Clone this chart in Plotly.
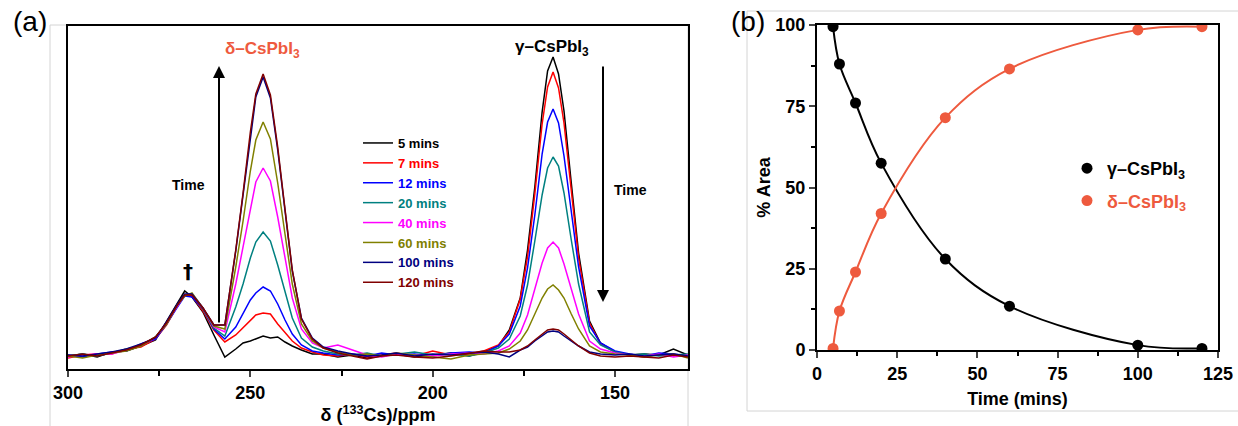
import plotly.graph_objects as go

# ---------------- Panel (a): 133Cs NMR spectra ----------------
ppm = [300, 296, 292, 288, 284, 280, 276, 273, 270, 268, 266, 263, 260, 257, 254, 252,
       250, 248.5, 246.5, 244.5, 242.5, 240.5, 238.5, 236, 233, 230, 226, 222, 218, 214,
       210, 205, 200, 195, 190, 186, 182, 179, 176, 174, 172, 170, 168.5, 167, 165.5, 164,
       162, 160, 157, 154, 150, 146, 142, 138, 134, 130]

int_5min = [-1, 1, -2, 3, 4, 9, 15, 33, 52, 64, 58,
            43, 20, -2, 6, 12, 14, 16, 19, 17, 18, 13, 9, 5, 1, 1, -2,
            0, -3, -1, 1, -2, 0, 2, -1,
            3, 9, 25, 57, 105, 168, 243, 284, 298, 281, 244, 172, 102, 34, 12, 3,
            0, 1, 0, 6, 0]
int_7min = [-3, 0, 1, 1, 6, 8, 16, 30, 49, 60, 59,
            44, 25, 13, 20, 27, 35, 40, 42, 41, 31, 22, 14, 7, 3, 0, -1,
            1, -2, 0, 2, -1, 4, 0, 1,
            4, 10, 23, 56, 98, 161, 231, 268, 283, 267, 232, 163, 97, 32, 11, 3,
            0, -2, 1, -1, 0]
int_12min = [0, -2, 1, 3, 4, 11, 16, 31, 48, 59, 58,
             46, 26, 16, 28, 41, 55, 62, 68, 64, 51, 35, 21, 10, 4, 2, 0,
             1, -1, 2, 0, 1, -1, 2, 3,
             2, 9, 21, 49, 87, 140, 201, 233, 246, 232, 199, 143, 88, 29, 12, 4,
             1, -1, 2, 1, -1]
int_20min = [-1, 1, -1, 2, 6, 9, 18, 31, 50, 60, 61,
             46, 27, 19, 48, 71, 97, 113, 123, 114, 90, 64, 37, 17, 8, 4, 1,
             0, 2, -1, 1, 3, 0, 1, -1,
             2, 7, 16, 39, 70, 114, 160, 187, 198, 189, 162, 115, 71, 23, 10, 3,
             0, 1, -1, 0, 1]
int_40min = [-2, 0, 1, 1, 5, 10, 17, 32, 49, 60, 61,
             47, 28, 23, 71, 108, 148, 173, 187, 174, 138, 97, 57, 26, 12, 7, 10,
             5, 0, -2, 1, 0, -1, 1, 2,
             1, 4, 9, 22, 40, 65, 92, 107, 113, 107, 91, 66, 41, 14, 6, 2,
             0, -1, 1, -2, 0]
int_60min = [-1, -3, 0, 2, 4, 9, 18, 31, 50, 59, 62,
             47, 29, 26, 88, 134, 184, 215, 233, 216, 172, 121, 71, 31, 14, 7, 3,
             0, 1, -1, 2, 0, -2, -4, 0,
             1, 2, 6, 14, 25, 41, 57, 66, 70, 65, 57, 41, 26, 9, 3, 1,
             0, -2, 0, 1, -3]
int_100min = [0, -1, 1, 3, 6, 11, 17, 33, 51, 61, 61,
              47, 30, 30, 104, 160, 221, 258, 278, 257, 205, 145, 84, 37, 17, 8, 4,
              1, -1, 0, 2, -1, 1, 0, 2,
              3, 1, -2, 5, 8, 14, 19, 23, 24, 23, 19, 14, 9, 3, 1, 0,
              1, -1, 0, 1, -1]
int_120min = [-1, 1, -1, 2, 5, 10, 18, 32, 50, 60, 60,
              47, 30, 30, 105, 162, 223, 261, 281, 260, 208, 146, 85, 36, 16, 7, 2,
              -1, -4, -1, 0, -2, -3, -1, 2,
              4, 3, 3, 5, 9, 15, 21, 25, 26, 25, 21, 15, 9, 2, -1, -2,
              -1, -2, -3, 0, -2]

spectra_labels = ["5 mins", "7 mins", "12 mins", "20 mins", "40 mins", "60 mins", "100 mins", "120 mins"]
spectra_colors = ["#000000", "#FF0000", "#0000FF", "#008080", "#FF00FF", "#808000", "#000080", "#800000"]
spectra = [int_5min, int_7min, int_12min, int_20min, int_40min, int_60min, int_100min, int_120min]

# ---------------- Panel (b): % area vs time ----------------
time_min = [5, 7, 12, 20, 40, 60, 100, 120]
gamma_area = [99.5, 88, 76, 57.5, 28, 13.5, 1.5, 0.5]
delta_area = [0.5, 12, 24, 42, 71.5, 86.5, 98.5, 99.5]

ORANGE = "#EE5A3E"
FONT = "Liberation Sans, Arial, sans-serif"
W, H = 1238, 426


def px(x):
    return x / W


def py(y):
    return (H - y) / H


fig = go.Figure()

for lab, col, ys in zip(spectra_labels, spectra_colors, spectra):
    fig.add_trace(go.Scatter(
        x=ppm, y=ys, mode="lines", line=dict(color=col, width=1.5),
        name=f'<span style="color:{col}">{lab}</span>',
        xaxis="x", yaxis="y", legend="legend", hoverinfo="skip"))

# fit lines (smooth through points)
fig.add_trace(go.Scatter(x=time_min, y=gamma_area, mode="lines", line=dict(color="black", width=2, shape="spline", smoothing=1.0),
                         showlegend=False, xaxis="x2", yaxis="y2"))
fig.add_trace(go.Scatter(x=time_min, y=delta_area, mode="lines", line=dict(color=ORANGE, width=2, shape="spline", smoothing=1.0),
                         showlegend=False, xaxis="x2", yaxis="y2"))
fig.add_trace(go.Scatter(x=time_min, y=gamma_area, mode="markers", marker=dict(color="black", size=11),
                         name="γ–CsPbI<sub>3</sub>", xaxis="x2", yaxis="y2", legend="legend2", legendgroup="g"))
fig.add_trace(go.Scatter(x=time_min, y=delta_area, mode="markers", marker=dict(color=ORANGE, size=11),
                         name=f'<span style="color:{ORANGE}">δ–CsPbI<sub>3</sub></span>',
                         xaxis="x2", yaxis="y2", legend="legend2", legendgroup="d"))

tickfont = dict(family=FONT, size=18, color="black", weight="bold")
titlefont = dict(family=FONT, size=18, color="black", weight="bold")

fig.update_layout(
    width=W, height=H,
    margin=dict(l=0, r=0, t=0, b=0, autoexpand=False),
    paper_bgcolor="white", plot_bgcolor="white",
    font=dict(family=FONT, color="black"),
    xaxis=dict(domain=[px(68), px(688)], range=[300, 130], anchor="y", automargin=False,
               tickmode="linear", tick0=300, dtick=50, ticks="outside", ticklen=6, tickwidth=2,
               minor=dict(ticks="outside", dtick=25, ticklen=5, tickwidth=2, tickcolor="black"),
               showline=True, linewidth=2, linecolor="black", mirror=True, showgrid=False,
               zeroline=False, tickfont=tickfont,
               title=dict(text="δ (<sup>133</sup>Cs)/ppm", font=titlefont, standoff=2)),
    yaxis=dict(domain=[py(369), py(26)], range=[-14, 329], anchor="x", automargin=False,
               showticklabels=False, ticks="", showline=True, linewidth=2, linecolor="black",
               mirror=True, showgrid=False, zeroline=False),
    xaxis2=dict(domain=[px(817), px(1218)], range=[0, 125], anchor="y2", automargin=False,
                tickmode="linear", tick0=0, dtick=25, ticks="outside", ticklen=6, tickwidth=2,
                minor=dict(ticks="outside", dtick=12.5, ticklen=4, tickwidth=2, tickcolor="black"),
                showline=True, linewidth=2, linecolor="black", mirror=True, showgrid=False,
                zeroline=False, tickfont=tickfont,
                title=dict(text="Time (mins)", font=titlefont, standoff=10)),
    yaxis2=dict(domain=[py(350), py(25)], range=[0, 100], anchor="x2", automargin=False,
                tickmode="linear", tick0=0, dtick=25, ticks="outside", ticklen=6, tickwidth=2,
                minor=dict(ticks="outside", dtick=12.5, ticklen=4, tickwidth=2, tickcolor="black"),
                showline=True, linewidth=2, linecolor="black", mirror=True, showgrid=False,
                zeroline=False, tickfont=tickfont,
                title=dict(text="% Area", font=titlefont, standoff=0)),
    legend=dict(x=px(358), y=py(128), xanchor="left", yanchor="top",
                bgcolor="rgba(0,0,0,0)", itemwidth=30, tracegroupgap=0,
                font=dict(family=FONT, size=13, weight="bold")),
    legend2=dict(x=px(1067), y=py(150), xanchor="left", yanchor="top",
                 bgcolor="rgba(0,0,0,0)", itemwidth=30, tracegroupgap=6,
                 font=dict(family=FONT, size=18, color="black", weight="bold")),
    showlegend=True,
)


def label(x, y, text, size, color="black", weight="bold", family=FONT):
    return dict(x=px(x), y=py(y), xref="paper", yref="paper", text=text, showarrow=False,
                xanchor="center", yanchor="middle",
                font=dict(family=family, size=size, color=color, weight=weight))


ann = [
    label(30, 22, "(a)", 28, weight="normal"),
    label(748, 22, "(b)", 28, weight="normal"),
    label(262, 50, "δ–CsPbI<sub>3</sub>", 17, color=ORANGE),
    label(552, 48, "γ–CsPbI<sub>3</sub>", 17),
    label(188, 185, "Time", 14),
    label(630, 190, "Time", 14),
    label(188, 271, "<b>†</b>", 20, family="DejaVu Sans, sans-serif"),
]
# arrows
ann.append(dict(x=px(219), y=py(66), xref="paper", yref="paper", ax=0, ay=258, text="",
                showarrow=True, arrowhead=2, arrowsize=1.2, arrowwidth=2, arrowcolor="black"))
ann.append(dict(x=px(603), y=py(302), xref="paper", yref="paper", ax=0, ay=-237, text="",
                showarrow=True, arrowhead=2, arrowsize=1.2, arrowwidth=2, arrowcolor="black"))
fig.update_layout(annotations=ann)

# light gray panel frames
gray = dict(color="#d4d4d4", width=1)
fig.add_shape(type="rect", xref="paper", yref="paper", x0=px(50), x1=px(688), y0=py(430), y1=py(25), line=gray, layer="below")
fig.add_shape(type="rect", xref="paper", yref="paper", x0=px(747), x1=px(1242), y0=py(411), y1=py(11), line=gray, layer="below")

fig.write_html("out.html", config={"displayModeBar": False},
               post_script="document.body.style.margin='0';document.body.style.overflow='hidden';")
